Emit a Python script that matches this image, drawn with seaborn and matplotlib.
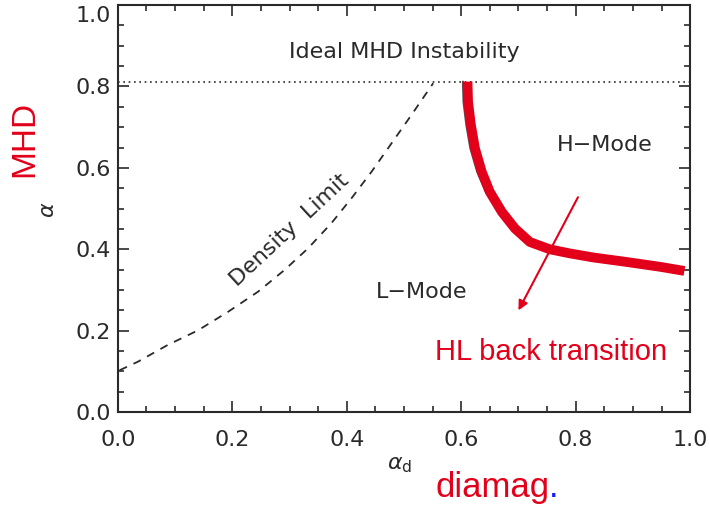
import numpy as np
import matplotlib
matplotlib.use("Agg")
import matplotlib.pyplot as plt
import matplotlib.transforms as mtransforms
import seaborn as sns

# density limit curve (dashed)
dens_x = [0.003, 0.035, 0.087, 0.140, 0.192, 0.245, 0.291, 0.332, 0.373, 0.408, 0.443, 0.478, 0.513, 0.551]
dens_y = [0.103, 0.124, 0.165, 0.201, 0.246, 0.296, 0.349, 0.402, 0.464, 0.525, 0.590, 0.660, 0.730, 0.808]

# H-L boundary (thick red)
hl_x = [0.611, 0.612, 0.617, 0.624, 0.636, 0.650, 0.671, 0.694, 0.720, 0.755, 0.790, 0.831, 0.889, 0.948, 0.990]
hl_y = [0.812, 0.762, 0.705, 0.648, 0.590, 0.541, 0.492, 0.451, 0.418, 0.400, 0.390, 0.380, 0.369, 0.357, 0.347]

# original black boundary peeking out under the red one
bk_x = [0.603, 0.604, 0.609, 0.616, 0.628, 0.643, 0.665]
bk_y = [0.812, 0.762, 0.705, 0.648, 0.590, 0.541, 0.492]

mhd_limit = 0.81
ticks = [0.0, 0.2, 0.4, 0.6, 0.8, 1.0]
tick_labels = ["0.0", "0.2", "0.4", "0.6", "0.8", "1.0"]

RED = "#e2001a"
INK = "#2a2a2a"

sns.set_theme(style="ticks")
plt.rcParams['font.family'] = ['DejaVu Sans']

fig = plt.figure(figsize=(7.10, 5.07), dpi=100)
ax = fig.add_axes([0.166, 0.187, 0.806, 0.803])

ax.axhline(mhd_limit, color=INK, lw=1.2, ls=(0, (1, 2.2)))
sns.lineplot(x=dens_x, y=dens_y, ax=ax, color=INK, lw=1.3)
ax.lines[-1].set_linestyle((0, (4.5, 4)))
sns.lineplot(x=bk_x, y=bk_y, ax=ax, color="#555555", lw=1.5)
sns.lineplot(x=hl_x, y=hl_y, ax=ax, color=RED, lw=7, solid_capstyle="butt")

ax.set_xlim(0, 1)
ax.set_ylim(0, 1)
ax.set_xticks(ticks)
ax.set_xticklabels(tick_labels)
ax.set_yticks(ticks)
ax.set_yticklabels(tick_labels)
ax.set_xticks(np.arange(0, 1.001, 0.05), minor=True)
ax.set_yticks(np.arange(0, 1.001, 0.05), minor=True)
ax.tick_params(which="both", direction="in", top=True, right=True, color=INK,
               labelcolor=INK, labelsize=16, width=1.2)
ax.tick_params(which="major", length=8)
ax.tick_params(which="minor", length=4)
ax.tick_params(axis="x", which="major", pad=13)
ax.tick_params(axis="y", which="major", pad=5)
for s in ax.spines.values():
    s.set_color(INK)
    s.set_linewidth(1.5)

# top y label sits a bit lower so it stays inside the frame
top_lab = ax.get_yticklabels()[-1]
top_lab.set_transform(top_lab.get_transform() +
                      mtransforms.ScaledTranslation(0, -0.09, fig.dpi_scale_trans))

# region labels
ax.text(0.5, 0.885, "Ideal MHD Instability", ha="center", va="center", fontsize=16, color=INK)
ax.text(0.851, 0.656, "H\u2212Mode", ha="center", va="center", fontsize=16, color=INK)
ax.text(0.53, 0.295, "L\u2212Mode", ha="center", va="center", fontsize=16, color=INK)
ax.text(0.30, 0.447, "Density  Limit", ha="center", va="center", fontsize=16, color=INK,
        rotation=43, rotation_mode="anchor")

ax.annotate("", xy=(0.70, 0.25), xytext=(0.804, 0.528),
            arrowprops=dict(arrowstyle="-|>", color=RED, lw=1.5, mutation_scale=14,
                            shrinkA=0, shrinkB=0))
ax.text(0.554, 0.128, "HL back transition", ha="left", va="baseline", fontsize=21,
        color=RED, family=["Liberation Sans"])

# axis labels
fig.text(0.068, 0.586, r"$\alpha$", rotation=90, ha="center", va="center", fontsize=16, color=INK)
fig.text(0.563, 0.083, r"$\alpha_{\rm d}$", ha="center", va="center", fontsize=16, color=INK)

fig.text(0.035, 0.726, "MHD", rotation=90, ha="center", va="center", fontsize=24,
         color=RED, family=["Liberation Sans"])
t = fig.text(0.613, 0.02, "diamag", ha="left", va="baseline", fontsize=25,
             color=RED, family=["Liberation Sans"])
fig.canvas.draw()
bb = t.get_window_extent()
fig.text(bb.x1 / fig.bbox.width, 0.02, ".", ha="left", va="baseline", fontsize=25,
         color="#1a1aff", family=["Liberation Sans"])

plt.savefig("out.png", dpi=100)
